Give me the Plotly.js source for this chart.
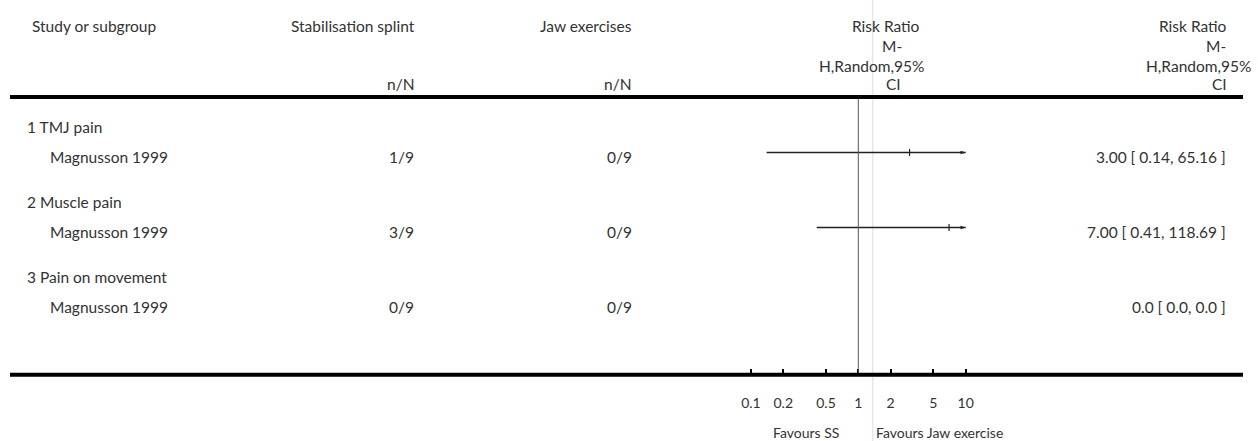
<!DOCTYPE html>
<html>
<head>
<meta charset="utf-8">
<script src="https://cdn.plot.ly/plotly-3.0.1.min.js"></script>
<style>
  html, body { margin: 0; padding: 0; background: #fff; }
  #chart { width: 1258px; height: 441px; }
</style>
</head>
<body>
<div id="chart"></div>
<script>
// ---- data ----
const subgroups = ['1 TMJ pain', '2 Muscle pain', '3 Pain on movement'];
const studies = ['Magnusson 1999', 'Magnusson 1999', 'Magnusson 1999'];
const splintEvents = [1, 3, 0];
const splintTotals = [9, 9, 9];
const jawEvents = [0, 0, 0];
const jawTotals = [9, 9, 9];
const riskRatio = [3.00, 7.00, 0.0];
const ciLower = [0.14, 0.41, 0.0];
const ciUpper = [65.16, 118.69, 0.0];
const tickValues = [0.1, 0.2, 0.5, 1, 2, 5, 10];
const tickLabels = ['0.1', '0.2', '0.5', '1', '2', '5', '10'];
const favoursLabels = ['Favours SS', 'Favours Jaw exercise'];
const columnHeaders = ['Study or subgroup', 'Stabilisation splint', 'Jaw exercises'];
const countHeader = 'n/N';
const effectHeader = ['Risk Ratio', 'M-', 'H,Random,95%', 'CI'];
const noEffect = 1;

// ---- geometry ----
const W = 1258, H = 441;
const PLOT_TOP = 97, PLOT_BOTTOM = 375;
const PLOT_H = PLOT_BOTTOM - PLOT_TOP;
const px = v => v / W;                         // pixel x -> paper x
const py = v => (PLOT_BOTTOM - v) / PLOT_H;    // pixel y -> paper y
const ROW0 = 127, ROW_STEP = 15;               // row units on the y axis
const Y_TOP = (PLOT_TOP - ROW0) / ROW_STEP;
const Y_BOTTOM = (PLOT_BOTTOM - ROW0) / ROW_STEP;
const NULL_X = 858.3, DECADE = 107.4;          // position of RR=1 and width of one decade
const X_MIN = tickValues[0], X_MAX = tickValues[tickValues.length - 1];

const FONT = 'Lato, "Open Sans", "DejaVu Sans", sans-serif';
const FS = 15.5;
const TEXT = '#333';
const INK = '#222';

const groupRow = k => 5 * k;
const studyRow = k => 5 * k + 2;

function fmt2(v) { return v.toFixed(2); }
function effectText(i) {
  if (riskRatio[i] === 0) return '0.0 [ 0.0, 0.0 ]';
  return fmt2(riskRatio[i]) + ' [ ' + fmt2(ciLower[i]) + ', ' + fmt2(ciUpper[i]) + ' ]';
}

// ---- traces: confidence intervals, point estimates, clipping arrows ----
const traces = [];
riskRatio.forEach((rr, i) => {
  if (!(rr > 0)) return;
  const y = studyRow(i) - 0.3;
  const x0 = Math.max(ciLower[i], X_MIN);
  const x1 = Math.min(ciUpper[i], X_MAX);
  traces.push({
    type: 'scatter', mode: 'lines', x: [x0, x1], y: [y, y],
    line: { color: INK, width: 1.5 }, hoverinfo: 'skip', showlegend: false
  });
  traces.push({
    type: 'scatter', mode: 'markers', x: [rr], y: [y],
    marker: { symbol: 'line-ns', size: 5, line: { color: INK, width: 1.2 } },
    hoverinfo: 'skip', showlegend: false
  });
  if (ciUpper[i] > X_MAX) {
    traces.push({
      type: 'scatter', mode: 'markers', x: [X_MAX], y: [y],
      marker: { symbol: 'arrow', angle: 90, size: 5.5, color: INK, line: { width: 0 } },
      hoverinfo: 'skip', showlegend: false
    });
  }
  if (ciLower[i] < X_MIN) {
    traces.push({
      type: 'scatter', mode: 'markers', x: [X_MIN], y: [y],
      marker: { symbol: 'arrow', angle: -90, size: 5.5, color: INK, line: { width: 0 } },
      hoverinfo: 'skip', showlegend: false
    });
  }
});

// ---- text ----
const ann = [];
function addText(text, x, y, xanchor, yref, size) {
  ann.push({
    text: text, x: x, y: y, xref: 'paper', yref: yref || 'paper',
    xanchor: xanchor, yanchor: 'middle', showarrow: false,
    font: { family: FONT, size: size || FS, color: TEXT }
  });
}

// column headers
addText(columnHeaders[0], px(30), py(25.5), 'left');
addText(columnHeaders[1], px(417), py(25.5), 'right');
addText(countHeader, px(417), py(83.5), 'right');
addText(columnHeaders[2], px(633.5), py(25.5), 'right');
addText(countHeader, px(633.5), py(83.5), 'right');
const effectLineY = [25.8, 46, 65.5, 83.7];
const effectMidX = [886.3, 892, 871.5, 894];
const effectRightX = [1229, 1228, 1252.7, 1229];
effectHeader.forEach((t, j) => {
  addText(t, px(effectMidX[j]), py(effectLineY[j]), 'center');
  addText(t, px(effectRightX[j]), py(effectLineY[j]), 'right');
});

// rows
subgroups.forEach((g, i) => {
  addText(g, px(25), groupRow(i), 'left', 'y');
  addText(studies[i], px(47.5), studyRow(i), 'left', 'y');
  addText(splintEvents[i] + '/' + splintTotals[i], px(415.5), studyRow(i), 'right', 'y');
  addText(jawEvents[i] + '/' + jawTotals[i], px(633.5), studyRow(i), 'right', 'y');
  addText(effectText(i), px(1227.5), studyRow(i), 'right', 'y');
});

// favours labels under the axis
addText(favoursLabels[0], px(841), py(432), 'right', 'paper', 14);
addText(favoursLabels[1], px(874), py(432), 'left', 'paper', 14);

// ---- rules ----
const shapes = [
  // faint column separator through the whole figure
  { type: 'line', xref: 'paper', yref: 'paper', x0: px(872.7), x1: px(872.7),
    y0: py(H), y1: py(0), line: { color: '#e6e6e6', width: 1.5 }, layer: 'below' },
  // line of no effect (shape x is in data units on this log axis)
  { type: 'line', xref: 'x', yref: 'paper', x0: noEffect, x1: noEffect,
    y0: 0, y1: 1, line: { color: '#555', width: 1 } },
  // header rule
  { type: 'line', xref: 'paper', yref: 'paper', x0: px(10), x1: px(1243),
    y0: py(97), y1: py(97), line: { color: '#000', width: 4 } },
  // bottom rule / axis line
  { type: 'line', xref: 'paper', yref: 'paper', x0: px(10), x1: px(1243),
    y0: py(374.7), y1: py(374.7), line: { color: '#000', width: 4 } }
];

const layout = {
  width: W, height: H,
  margin: { l: 0, r: 0, t: PLOT_TOP, b: H - PLOT_BOTTOM, pad: 0 },
  paper_bgcolor: '#fff', plot_bgcolor: 'rgba(0,0,0,0)',
  showlegend: false,
  xaxis: {
    type: 'log', domain: [0, 1],
    range: [-NULL_X / DECADE, (W - NULL_X) / DECADE],
    tickvals: tickValues, ticktext: tickLabels,
    ticks: 'inside', ticklen: 6, tickwidth: 2, tickcolor: '#000',
    ticklabelstandoff: 18,
    tickfont: { family: FONT, size: 14, color: TEXT },
    showgrid: false, zeroline: false, showline: false, fixedrange: true
  },
  yaxis: {
    range: [Y_BOTTOM, Y_TOP],
    visible: false, showgrid: false, zeroline: false, fixedrange: true
  },
  annotations: ann,
  shapes: shapes,
  font: { family: FONT, color: TEXT }
};

Plotly.newPlot('chart', traces, layout, { staticPlot: true, displayModeBar: false });
</script>
</body>
</html>
